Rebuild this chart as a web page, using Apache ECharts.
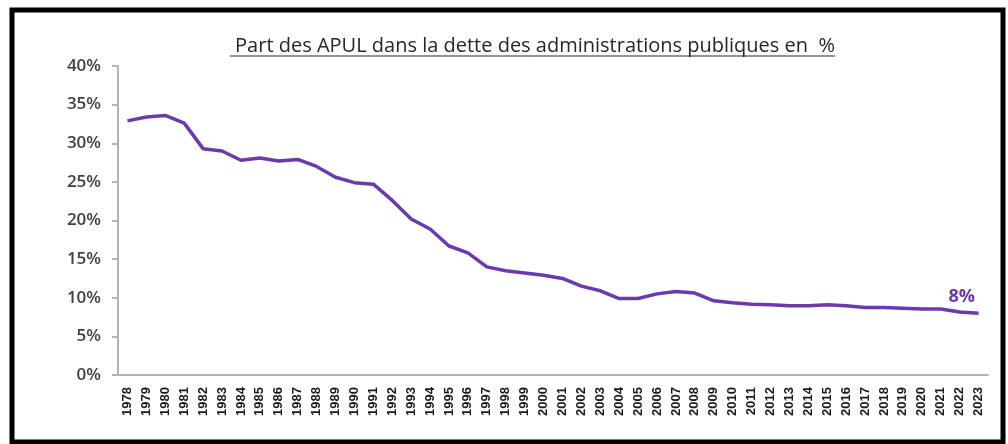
<!DOCTYPE html>
<html>
<head>
<meta charset="utf-8">
<script src="https://cdn.jsdelivr.net/npm/echarts@6/dist/echarts.min.js"></script>
<style>
  html, body { margin: 0; padding: 0; background: #fff; }
  #chart { width: 1008px; height: 444px; }
</style>
</head>
<body>
<div id="chart"></div>
<script>
// années
var years = [
  "1978", "1979", "1980", "1981", "1982", "1983", "1984", "1985", "1986", "1987",
  "1988", "1989", "1990", "1991", "1992", "1993", "1994", "1995", "1996", "1997",
  "1998", "1999", "2000", "2001", "2002", "2003", "2004", "2005", "2006", "2007",
  "2008", "2009", "2010", "2011", "2012", "2013", "2014", "2015", "2016", "2017",
  "2018", "2019", "2020", "2021", "2022", "2023"
];
// part des APUL en %
var partApul = [
  32.9, 33.4, 33.6, 32.6, 29.3, 29.0, 27.8, 28.1, 27.7, 27.9,
  27.0, 25.6, 24.9, 24.7, 22.6, 20.2, 18.9, 16.7, 15.8, 14.0,
  13.5, 13.2, 12.9, 12.5, 11.5, 10.9, 9.9, 9.9, 10.5, 10.8,
  10.6, 9.6, 9.35, 9.15, 9.1, 8.95, 8.95, 9.1, 8.95, 8.75,
  8.75, 8.65, 8.55, 8.55, 8.15, 8.0
];
var yTicks = [0, 5, 10, 15, 20, 25, 30, 35, 40];

var chart = echarts.init(document.getElementById("chart"));
var lineColor = "#6b3aad";

var option = {
  animation: false,
  backgroundColor: "#fff",
  title: {
    text: "Part des APUL dans la dette des administrations publiques en  %",
    left: 530,
    textAlign: "center",
    top: 31,
    textStyle: {
      fontFamily: "Open Sans",
      fontSize: 20,
      fontWeight: "normal",
      color: "#262626"
    }
  },
  // cadre noir + soulignement du titre
  graphic: [
    {
      type: "rect",
      shape: { x: 12, y: 10, width: 991, height: 432 },
      style: { fill: "none", stroke: "#000", lineWidth: 5 }
    },
    {
      type: "line",
      shape: { x1: 230, y1: 56, x2: 835, y2: 56 },
      style: { stroke: "#262626", lineWidth: 1 }
    }
  ],
  grid: {
    left: 118,
    right: 20,
    top: 66,
    bottom: 69,
    containLabel: false
  },
  xAxis: {
    type: "category",
    data: years,
    boundaryGap: true,
    axisLine: { show: true, lineStyle: { color: "#b4b4b4", width: 2 } },
    axisTick: { show: false },
    axisLabel: {
      rotate: 90,
      interval: 0,
      margin: 12,
      fontFamily: "Liberation Sans",
      fontWeight: "bold",
      fontSize: 13,
      color: "#1a1a1a"
    },
    splitLine: { show: false }
  },
  yAxis: {
    type: "value",
    min: yTicks[0],
    max: yTicks[yTicks.length - 1],
    interval: 5,
    axisLine: { show: true, lineStyle: { color: "#b4b4b4", width: 2 } },
    axisTick: { show: true, inside: false, length: 6, lineStyle: { color: "#b4b4b4", width: 2 } },
    axisLabel: {
      margin: 17,
      formatter: "{value}%",
      fontFamily: "Open Sans",
      fontWeight: 600,
      fontSize: 17,
      color: "#404040"
    },
    splitLine: { show: false }
  },
  series: [
    {
      type: "line",
      data: partApul,
      symbol: "none",
      smooth: false,
      lineStyle: { color: lineColor, width: 3.5 },
      itemStyle: { color: lineColor },
      endLabel: {
        show: true,
        formatter: "8%",
        distance: 0,
        offset: [-30, -16],
        fontFamily: "Open Sans",
        fontWeight: "bold",
        fontSize: 18,
        color: lineColor
      }
    }
  ]
};

chart.setOption(option);
</script>
</body>
</html>
